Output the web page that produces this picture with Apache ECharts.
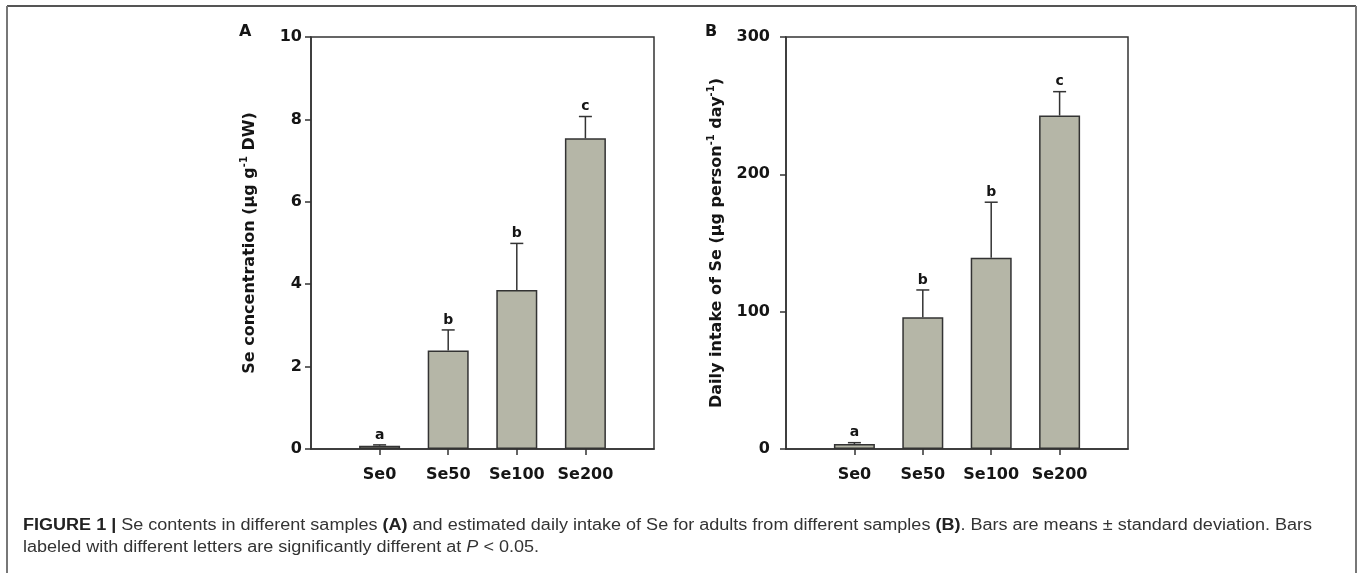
<!DOCTYPE html>
<html>
<head>
<meta charset="utf-8">
<script src="https://cdn.jsdelivr.net/npm/echarts@6/dist/echarts.min.js"></script>
<style>
html,body{margin:0;padding:0;background:#fff;}
#chart{width:1360px;height:573px;}
</style>
</head>
<body>
<div id="chart"></div>
<script>
// ---- data ----
const categories = ['Se0', 'Se50', 'Se100', 'Se200'];
const concMean = [0.08, 2.39, 3.86, 7.54];
const concSD = [0.02, 0.50, 1.13, 0.53];
const intakeMean = [3.6, 95.9, 139.3, 242.8];
const intakeSD = [1.0, 19.9, 40.4, 17.4];
const lettersA = ['a', 'b', 'b', 'c'];
const lettersB = ['a', 'b', 'b', 'c'];
const concTicks = [0, 10, 2];      // min, max, interval
const intakeTicks = [0, 300, 100]; // min, max, interval

// ---- chart ----
const FONT = '"DejaVu Sans", Verdana, sans-serif';
const CFONT = '"Liberation Sans", Arial, Helvetica, sans-serif';
const AXC = '#333';
const TXT = '#151515';
const chart = echarts.init(document.getElementById('chart'), null, {renderer: 'canvas'});
const xData = [''].concat(categories).concat(['']);

function xAxis(gi) {
  return {
    type: 'category', gridIndex: gi, data: xData, boundaryGap: false,
    axisLine: {lineStyle: {color: AXC, width: 1.5}},
    axisTick: {show: true, inside: false, length: 6, lineStyle: {color: AXC, width: 1.5},
      interval: function (idx, val) { return val !== ''; }},
    axisLabel: {interval: 0, margin: 18, fontFamily: FONT, fontWeight: 'bold', fontSize: 16, color: TXT},
    splitLine: {show: false}
  };
}
function yAxis(gi, t, name, gap, lblMargin) {
  return {
    type: 'value', gridIndex: gi, min: t[0], max: t[1], interval: t[2],
    name: name, nameLocation: 'middle', nameGap: gap, nameRotate: 90,
    nameTextStyle: {
      fontFamily: FONT, fontWeight: 'bold', fontSize: 16, color: TXT,
      rich: {
        n: {fontFamily: FONT, fontWeight: 'bold', fontSize: 16, color: TXT, lineHeight: 22},
        s: {fontFamily: FONT, fontWeight: 'bold', fontSize: 10, color: TXT, verticalAlign: 'top'}
      }
    },
    axisLine: {show: true, lineStyle: {color: AXC, width: 1.5}},
    axisTick: {show: true, inside: false, length: 6, lineStyle: {color: AXC, width: 1.5}},
    axisLabel: {margin: lblMargin, fontFamily: FONT, fontWeight: 'bold', fontSize: 16, color: TXT},
    splitLine: {show: false}
  };
}
function barSeries(gi, means) {
  return {
    type: 'bar', xAxisIndex: gi, yAxisIndex: gi, barWidth: 41,
    data: categories.map(function (c, i) { return [c, means[i]]; }),
    itemStyle: {color: '#b5b6a7', borderColor: '#333', borderWidth: 1.5},
    silent: true, z: 2
  };
}
function errSeries(gi, means, sds, letters) {
  return {
    type: 'custom', xAxisIndex: gi, yAxisIndex: gi, z: 3, silent: true,
    encode: {x: 0, y: 1},
    data: categories.map(function (c, i) { return [c, means[i], means[i] + sds[i]]; }),
    renderItem: function (params, api) {
      const xi = api.value(0);
      const p0 = api.coord([xi, api.value(1)]);
      const p1 = api.coord([xi, api.value(2)]);
      const st = {stroke: '#333', lineWidth: 1.5};
      return {
        type: 'group',
        children: [
          {type: 'line', shape: {x1: p0[0], y1: p0[1], x2: p1[0], y2: p1[1]}, style: st},
          {type: 'line', shape: {x1: p1[0] - 6.5, y1: p1[1], x2: p1[0] + 6.5, y2: p1[1]}, style: st},
          {type: 'text', x: p1[0], y: p1[1] - 3,
            style: {text: letters[params.dataIndex], align: 'center', verticalAlign: 'bottom',
              fontFamily: FONT, fontWeight: 'bold', fontSize: 14, fill: TXT}}
        ]
      };
    }
  };
}

const option = {
  backgroundColor: '#fff',
  animation: false,
  grid: [
    {left: 311, right: 706, top: 37, bottom: 124, show: true, borderColor: AXC, borderWidth: 1.5, backgroundColor: 'transparent'},
    {left: 786, right: 232, top: 37, bottom: 124, show: true, borderColor: AXC, borderWidth: 1.5, backgroundColor: 'transparent'}
  ],
  xAxis: [xAxis(0), xAxis(1)],
  yAxis: [
    yAxis(0, concTicks, '{n|Se concentration (μg g}{s|-1}{n| DW)}', 50, 9),
    yAxis(1, intakeTicks, '{n|Daily intake of Se (μg person}{s|-1}{n| day}{s|-1}{n|)}', 58, 16)
  ],
  series: [
    barSeries(0, concMean), errSeries(0, concMean, concSD, lettersA),
    barSeries(1, intakeMean), errSeries(1, intakeMean, intakeSD, lettersB)
  ],
  graphic: [
    {type: 'line', shape: {x1: 7, y1: 6, x2: 1356, y2: 6}, style: {stroke: '#555', lineWidth: 2}},
    {type: 'line', shape: {x1: 7, y1: 6, x2: 7, y2: 573}, style: {stroke: '#777', lineWidth: 2}},
    {type: 'line', shape: {x1: 1356, y1: 6, x2: 1356, y2: 573}, style: {stroke: '#777', lineWidth: 2}},
    {type: 'text', x: 239, y: 24, style: {text: 'A', fontFamily: FONT, fontWeight: 'bold', fontSize: 16, fill: TXT}},
    {type: 'text', x: 705, y: 24, style: {text: 'B', fontFamily: FONT, fontWeight: 'bold', fontSize: 16, fill: TXT}},
    {type: 'text', x: 23, y: 518, scaleX: 1.127, style: {
      text: '{b|FIGURE 1 |} Se contents in different samples {b|(A)} and estimated daily intake of Se for adults from different samples {b|(B)}. Bars are means ± standard deviation. Bars',
      fontFamily: CFONT, fontSize: 16, fill: '#333',
      rich: {b: {fontFamily: CFONT, fontSize: 16, fontWeight: 'bold', fill: '#222'}}
    }},
    {type: 'text', x: 23, y: 540, scaleX: 1.127, style: {
      text: 'labeled with different letters are significantly different at {i|P} < 0.05.',
      fontFamily: CFONT, fontSize: 16, fill: '#333',
      rich: {i: {fontFamily: CFONT, fontSize: 16, fontStyle: 'italic', fill: '#333'}}
    }}
  ]
};
chart.setOption(option);
</script>
</body>
</html>
